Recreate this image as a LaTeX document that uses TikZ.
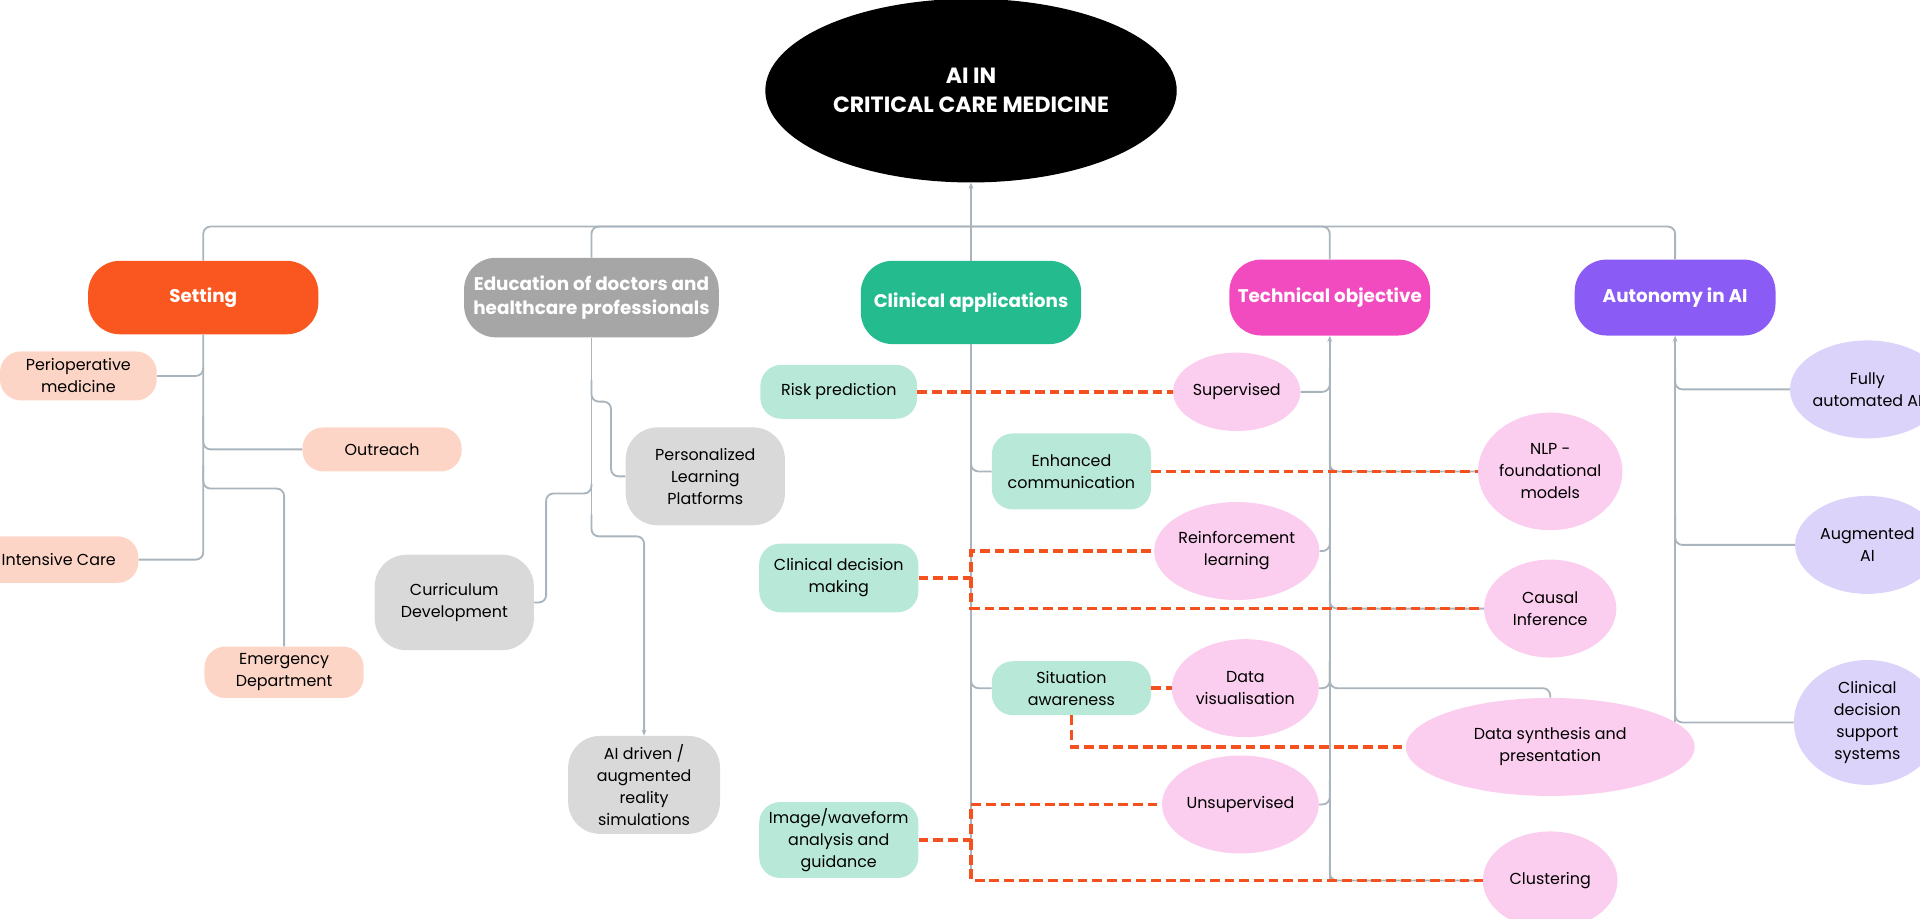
\documentclass[tikz,border=0pt]{standalone}
\usepackage{fontspec}
\setmainfont{Poppins}
\usetikzlibrary{shapes.geometric,arrows.meta}
\definecolor{gl}{HTML}{A9B4BC}
\definecolor{od}{HTML}{F4511E}
\definecolor{cSet}{HTML}{FA5620}
\definecolor{cEdu}{HTML}{A6A6A6}
\definecolor{cCli}{HTML}{24BB8F}
\definecolor{cTec}{HTML}{F24BBF}
\definecolor{cAut}{HTML}{8A5CF5}
\definecolor{lSet}{HTML}{FDD5C6}
\definecolor{lEdu}{HTML}{D9D9D9}
\definecolor{lCli}{HTML}{B8E8D8}
\definecolor{lTec}{HTML}{FBCDEE}
\definecolor{lAut}{HTML}{DCD3FA}
\begin{document}
\begin{tikzpicture}[x=1pt,y=-1pt,
  every node/.style={font=\fontsize{13}{18}\selectfont,align=center,inner sep=2pt},
  cat/.style={rounded corners=26pt,text=white,font=\fontsize{15}{20}\selectfont\bfseries},
  rr/.style={rounded corners=17pt},
  el/.style={ellipse,inner sep=0pt},
  gln/.style={draw=gl,line width=1.5pt,rounded corners=6pt},
  arr/.style={gln,-{Stealth[length=5pt,width=4pt]}},
  dl/.style={draw=od,line width=2.8pt,dash pattern=on 8pt off 4pt},
]
\useasboundingbox (0,0) rectangle (1568,750);
% root
\node[el,fill=black,minimum width=336pt,minimum height=150pt,text=white,font=\fontsize{18}{24}\selectfont\bfseries] (root) at (793,74) {AI IN\\CRITICAL CARE MEDICINE};
% categories
\node[cat,fill=cSet,minimum width=188pt,minimum height=60pt] (set) at (166,243) {Setting};
\node[cat,fill=cEdu,minimum width=208pt,minimum height=65pt] (edu) at (483,243) {Education of doctors and\\healthcare professionals};
\node[cat,fill=cCli,minimum width=180pt,minimum height=68pt] (cli) at (793,247) {Clinical applications};
\node[cat,fill=cTec,minimum width=164pt,minimum height=62pt] (tec) at (1086,243) {Technical objective};
\node[cat,fill=cAut,minimum width=164pt,minimum height=62pt] (aut) at (1368,243) {Autonomy in AI};
% setting children
\tikzset{sc/.style={rr,fill=lSet,minimum width=130pt}}
\node[sc,minimum width=128pt,minimum height=40pt] (peri) at (64,307) {Perioperative\\medicine};
\node[sc,minimum height=36pt] (out) at (312,367) {Outreach};
\node[sc,minimum height=38pt] (icu) at (48,457) {Intensive Care};
\node[sc,minimum height=42pt] (ed) at (232,549) {Emergency\\Department};
% education children
\tikzset{ec/.style={rr,rounded corners=26pt,fill=lEdu,minimum width=130pt,minimum height=80pt}}
\node[ec] (pers) at (576,389) {Personalized\\Learning\\Platforms};
\node[ec,minimum height=78pt] (cur) at (371,492) {Curriculum\\Development};
\node[ec,minimum width=124pt] (sim) at (526,641) {AI driven /\\augmented\\reality\\simulations};
% clinical children
\tikzset{cc/.style={rr,fill=lCli,minimum width=130pt}}
\node[cc,minimum width=128pt,minimum height=44pt] (risk) at (685,320) {Risk prediction};
\node[cc,minimum height=62pt] (enh) at (875,385) {Enhanced\\communication};
\node[cc,minimum height=56pt] (cdm) at (685,472) {Clinical decision\\making};
\node[cc,minimum height=44pt] (sit) at (875,562) {Situation\\awareness};
\node[cc,minimum height=62pt] (img) at (685,686) {Image/waveform\\analysis and\\guidance};
% technical children
\tikzset{tc/.style={el,fill=lTec}}
\node[tc,minimum width=104pt,minimum height=64pt] (sup) at (1010,320) {Supervised};
\node[tc,minimum width=116pt,minimum height=96pt] (nlp) at (1266,385) {NLP -\\foundational\\models};
\node[tc,minimum width=132pt,minimum height=80pt] (rl) at (1010,450) {Reinforcement\\learning};
\node[tc,minimum width=108pt,minimum height=80pt] (cau) at (1266,497) {Causal\\Inference};
\node[tc,minimum width=120pt,minimum height=80pt] (dv) at (1017,562) {Data\\visualisation};
\node[tc,minimum width=236pt,minimum height=80pt] (ds) at (1266,610) {Data synthesis and\\presentation};
\node[tc,minimum width=128pt,minimum height=80pt] (uns) at (1013,657) {Unsupervised};
\node[tc,minimum width=110pt,minimum height=80pt] (clu) at (1266,719) {Clustering};
% autonomy children
\tikzset{ac/.style={el,fill=lAut,minimum width=118pt,minimum height=80pt}}
\node[ac] (fa) at (1525,318) {Fully\\automated AI};
\node[ac] (aug) at (1525,445) {Augmented\\AI};
\node[ac,minimum width=120pt,minimum height=102pt] (cds) at (1525,590) {Clinical\\decision\\support\\systems};
% top bus
\coordinate (b) at (793,185);
\draw[arr] (b) -- (root.south);
\draw[gln] (set.north) |- (b) -| (aut.north);
\draw[gln] (edu.north) |- (b);
\draw[gln] (tec.north) |- (b);
\draw[gln,rounded corners=0pt] (cli.north) -- (b);
% setting tree
\draw[gln] (set.south) |- (icu.east);
\draw[gln] (166,300) |- (peri.east);
\draw[gln] (166,340) |- (out.west);
\draw[gln] (166,380) |- (232,399) -- (ed.north);
% education tree
\draw[gln] (edu.south) -- (483,425);
\draw[arr] (483,420) |- (526,438) -- (sim.north);
\draw[gln] (483,310) |- (499,328) |- (pers.west);
\draw[gln] (483,395) |- (446,403) |- (cur.east);
% clinical tree
\draw[gln] (cli.south) -- (793,715);
\draw[gln] (793,360) |- (enh.west);
\draw[gln] (793,540) |- (sit.west);
% technical tree
\draw[arr] (1086,719) -- (tec.south);
\draw[gln] (1086,300) |- (sup.east);
\draw[gln] (1086,360) |- (nlp.west);
\draw[gln] (1086,430) |- (rl.east);
\draw[gln] (1086,475) |- (cau.west);
\draw[gln] (1086,540) |- (dv.east);
\draw[gln] (1086,540) |- (1266,562) -- (ds.north);
\draw[gln] (1086,637) |- (uns.east);
\draw[gln] (1086,700) |- (clu.west);
% autonomy tree
\draw[arr] (1368,590) -- (aut.south);
\draw[gln] (1368,300) |- (fa.west);
\draw[gln] (1368,420) |- (aug.west);
\draw[gln] (1368,570) |- (cds.west);
% dashed links
\draw[dl] (risk.east) -- (sup.west);
\draw[dl] (enh.east) -- (nlp.west);
\draw[dl] (cdm.east) -- (793,472) |- (rl.west);
\draw[dl] (793,472) |- (cau.west);
\draw[dl] (sit.east) -- (dv.west);
\draw[dl] (sit.south) |- (ds.west);
\draw[dl] (img.east) -- (793,686) |- (uns.west);
\draw[dl] (793,686) |- (clu.west);
\end{tikzpicture}
\end{document}
